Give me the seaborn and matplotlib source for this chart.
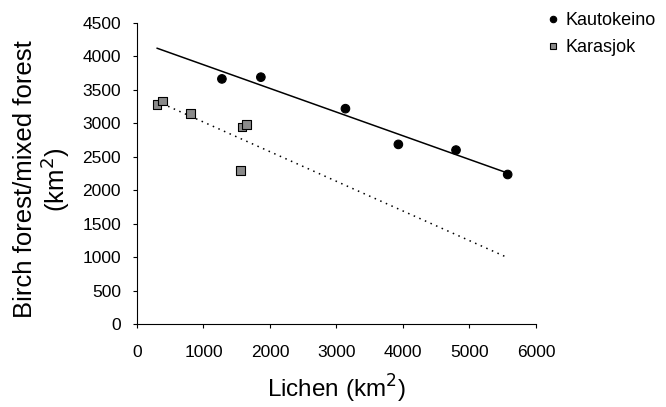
import numpy as np
import pandas as pd
import matplotlib
matplotlib.use("Agg")
import matplotlib.pyplot as plt
import seaborn as sns

kaut_x = [1277, 1863, 3135, 3931, 4798, 5575]
kaut_y = [3664, 3690, 3219, 2685, 2600, 2235]
kara_x = [300, 385, 801, 1582, 1647, 1557]
kara_y = [3285, 3335, 3150, 2944, 2985, 2295]
series = ["Kautokeino", "Karasjok"]
xticks = [0, 1000, 2000, 3000, 4000, 5000, 6000]
yticks = list(range(0, 4501, 500))

sns.set_style("ticks")
plt.rcParams["font.family"] = ["Liberation Sans", "DejaVu Sans"]
plt.rcParams.update({"text.color": "black", "axes.labelcolor": "black",
                     "xtick.color": "black", "ytick.color": "black"})

df = pd.DataFrame({
    "x": kaut_x + kara_x,
    "y": kaut_y + kara_y,
    "site": [series[0]] * len(kaut_x) + [series[1]] * len(kara_x),
})

fig = plt.figure(figsize=(6.66, 4.07), dpi=100)
ax = fig.add_axes([0.2057, 0.204, 0.599, 0.7395])

sns.scatterplot(data=df, x="x", y="y", hue="site", style="site",
                palette={series[0]: "black", series[1]: "#8a8a8a"},
                markers={series[0]: "o", series[1]: "s"},
                s=38, edgecolor="black", linewidth=0.8, ax=ax, zorder=3)

xmin = min(kara_x)
xmax = max(kaut_x)
xs = np.array([xmin, xmax])
for xv, yv, ls, lw in [(kaut_x, kaut_y, "-", 1.1), (kara_x, kara_y, (0, (1, 3)), 1.1)]:
    m, b = np.polyfit(xv, yv, 1)
    ax.plot(xs, m * xs + b, color="black", linestyle=ls, linewidth=lw, zorder=2)

ax.set_xlim(0, 6000)
ax.set_ylim(0, 4500)
ax.set_xticks(xticks)
ax.set_yticks(yticks)
ax.tick_params(labelsize=12.5, length=3, width=0.8, colors="black")
ax.tick_params(axis="x", pad=12)
ax.tick_params(axis="y", pad=8.5)
for sp in ["left", "bottom"]:
    ax.spines[sp].set_linewidth(0.8)
    ax.spines[sp].set_color("black")
sns.despine(ax=ax)

ax.set_xlabel("Lichen (km$^2$)", fontsize=17.5, labelpad=9)
ax.set_ylabel("Birch forest/mixed forest\n(km$^2$)", fontsize=18.5, linespacing=1.05)
ax.yaxis.set_label_coords(-0.163, 0.48)

leg = ax.legend(loc="upper left", bbox_to_anchor=(1.012, 1.06), frameon=False,
                fontsize=13, handletextpad=0.4, handlelength=0.6, markerscale=0.75,
                borderaxespad=0, labelspacing=0.55, title=None)

fig.savefig("out.png", dpi=100)
